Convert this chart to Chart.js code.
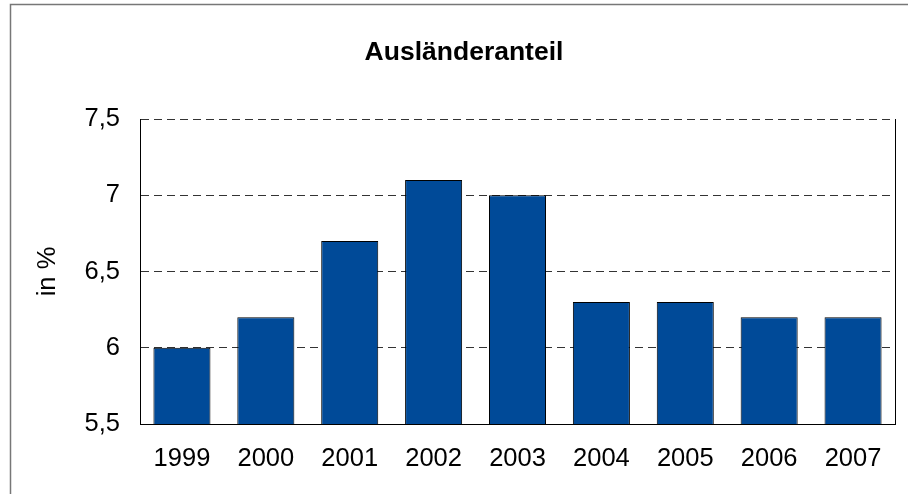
<!DOCTYPE html>
<html>
<head>
<meta charset="utf-8">
<script src="https://cdn.jsdelivr.net/npm/chart.js@4/dist/chart.umd.min.js"></script>
<style>
html,body{margin:0;padding:0;background:#fff;}
canvas{display:block;}
</style>
</head>
<body>
<canvas id="c" width="908" height="494"></canvas>
<script>
const categories = ["1999","2000","2001","2002","2003","2004","2005","2006","2007"];
const values = [6.0, 6.2, 6.7, 7.1, 7.0, 6.3, 6.3, 6.2, 6.2];
const yTicks = [5.5, 6, 6.5, 7, 7.5];
const chartTitle = "Ausländeranteil";
const yAxisTitle = "in %";

const FONT = "'Liberation Sans', Arial, sans-serif";

const decorPlugin = {
  id: 'decor',
  beforeDraw(chart) {
    const ctx = chart.ctx;
    ctx.save();
    ctx.fillStyle = '#fff';
    ctx.fillRect(0, 0, chart.width, chart.height);
    ctx.strokeStyle = '#777';
    ctx.lineWidth = 1.5;
    ctx.strokeRect(10.5, 4.5, 2000, 2000);
    ctx.restore();
  },
  afterDraw(chart) {
    const ctx = chart.ctx;
    const a = chart.chartArea;
    ctx.save();
    ctx.strokeStyle = '#000';
    ctx.lineWidth = 1;
    ctx.beginPath();
    ctx.moveTo(Math.round(a.right) + 0.5, a.top);
    ctx.lineTo(Math.round(a.right) + 0.5, a.bottom + 0.5);
    ctx.stroke();
    ctx.fillStyle = '#000';
    ctx.font = "bold 26.5px " + FONT;
    ctx.textAlign = 'center';
    ctx.textBaseline = 'middle';
    ctx.fillText(chartTitle, 464, 53);
    ctx.restore();
  }
};

new Chart(document.getElementById('c'), {
  type: 'bar',
  data: {
    labels: categories,
    datasets: [{
      data: values,
      backgroundColor: '#004A98',
      borderColor: '#000',
      borderWidth: 1,
      borderSkipped: false,
      barPercentage: 0.68,
      categoryPercentage: 1.0
    }]
  },
  options: {
    responsive: false,
    animation: false,
    events: [],
    layout: { padding: { left: 0, top: 119, right: 13, bottom: 0 } },
    plugins: { legend: { display: false }, title: { display: false }, tooltip: { enabled: false } },
    scales: {
      x: {
        grid: { display: false, drawTicks: false },
        border: { display: true, color: '#000', width: 1 },
        ticks: { color: '#000', font: { family: FONT, size: 25.5 }, padding: 20, maxRotation: 0 },
        afterFit(s) { s.height = 70; }
      },
      y: {
        min: 5.5,
        max: 7.5,
        afterBuildTicks(s) { s.ticks = yTicks.map(v => ({ value: v })); },
        grid: { color: '#333', lineWidth: 1, drawTicks: false },
        border: { display: true, color: '#000', width: 1, dash: [8, 5] },
        ticks: {
          color: '#000',
          font: { family: FONT, size: 25.5 },
          padding: 20,
          callback: v => String(v).replace('.', ',')
        },
        title: {
          display: true,
          text: yAxisTitle,
          color: '#000',
          font: { family: FONT, size: 25.5 },
          padding: { top: 33, bottom: 0 }
        },
        afterFit(s) { s.width = 140; }
      }
    }
  },
  plugins: [decorPlugin]
});
</script>
</body>
</html>
